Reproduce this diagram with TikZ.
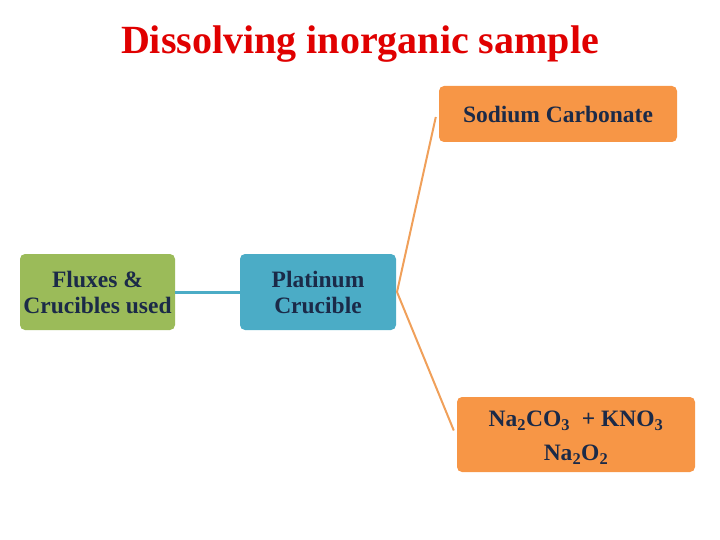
\documentclass[tikz,border=0pt]{standalone}
\usepackage{fontspec}
\setmainfont{Liberation Serif}
\definecolor{boxgreen}{HTML}{9BBB59}
\definecolor{boxblue}{HTML}{4BACC6}
\definecolor{boxorange}{HTML}{F79646}
\definecolor{lineorange}{HTML}{F0A05A}
\definecolor{navy}{HTML}{1B2A48}
\definecolor{titlered}{HTML}{E00000}
\begin{document}
\begin{tikzpicture}[x=1pt,y=1pt,
  box/.style={rounded corners=5pt,inner sep=0pt,align=center,text=navy,font=\bfseries\fontsize{23.5}{26}\selectfont},
  greenbox/.style={box,fill=boxgreen,minimum width=155pt,minimum height=76pt},
  bluebox/.style={box,fill=boxblue,minimum width=156pt,minimum height=76pt},
  orangebox/.style={box,fill=boxorange,minimum width=238pt},
  link/.style={line width=2pt,lineorange}]
\useasboundingbox (0,0) rectangle (720,-540);
\node[font=\bfseries\fontsize{40}{46}\selectfont,text=titlered] (title) at (360,-44) {Dissolving inorganic sample};
\node[greenbox] (flux) at (97.5,-292) {Fluxes \&\\Crucibles used};
\node[bluebox] (pt) at (318,-292) {Platinum\\Crucible};
\node[orangebox,minimum height=56pt] (soda) at (558,-114) {Sodium Carbonate};
\node[orangebox,minimum height=75pt] (mix) at (576,-434.5) {\rule{0pt}{22pt}Na\textsubscript{2}CO\textsubscript{3}\ \ + KNO\textsubscript{3}\\[8pt]Na\textsubscript{2}O\textsubscript{2}};
\coordinate (split) at (397,-292);
\draw[boxblue,line width=3pt] (flux.east) -- (pt.west);
\draw[link] (split) -- ([xshift=-3pt,yshift=-3pt]soda.west);
\draw[link] (split) -- ([xshift=-3pt,yshift=4pt]mix.west);
\end{tikzpicture}
\end{document}
